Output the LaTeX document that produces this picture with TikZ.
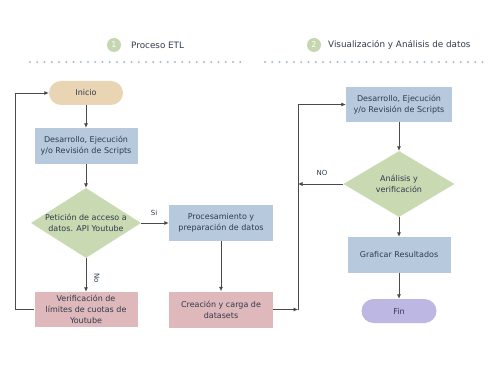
\documentclass[tikz,border=0pt]{standalone}
\usepackage{fontspec}
\setmainfont{DejaVu Sans}
\usetikzlibrary{shapes.geometric,arrows.meta}
\definecolor{txt}{HTML}{2F3B4C}
\definecolor{tan}{HTML}{E9D4B4}
\definecolor{bluebox}{HTML}{B7CADD}
\definecolor{greend}{HTML}{C9D9B2}
\definecolor{pinkbox}{HTML}{DEB8BB}
\definecolor{lav}{HTML}{BDB8E3}
\definecolor{dotc}{HTML}{A9BCCA}
\definecolor{circ}{HTML}{C5D6B0}
\definecolor{linec}{HTML}{4A4A4A}
\tikzset{
  base/.style={text=txt, font=\fontsize{8}{11}\selectfont, align=center, inner sep=0pt},
  pill/.style={base, fill=#1, rounded corners=12pt, minimum width=74pt, minimum height=24pt},
  box/.style={base, fill=#1, minimum width=104pt, minimum height=36pt},
  dec/.style={fill=greend, diamond, aspect=1.6, inner sep=0pt},
  conn/.style={draw=linec, line width=0.7pt, -{Latex[length=4.5pt,width=4pt]}},
  lbl/.style={text=txt, font=\fontsize{7}{8}\selectfont, inner sep=0pt},
  dots/.style={draw=dotc, line width=2.2pt, line cap=round, dash pattern=on 0pt off 7.25pt},
  num/.style={circle, fill=circ, minimum size=14pt, inner sep=0pt, text=white, font=\fontsize{8}{9}\selectfont},
  title/.style={text=txt, font=\fontsize{8.8}{10}\selectfont, inner sep=0pt, anchor=west}
}
\begin{document}
\begin{tikzpicture}[x=1pt,y=-1pt]
\useasboundingbox (0,0) rectangle (500,374);
% headers
\node[num] (n1) at (114,45) {1};
\node[title] (t1) at (131,45) {Proceso ETL};
\node[num] (n2) at (314,45) {2};
\node[title] (t2) at (328,45) {Visualización y Análisis de datos};
\coordinate (d1a) at (30,62); \coordinate (d1b) at (246,62);
\coordinate (d2a) at (265,62); \coordinate (d2b) at (486,62);
\draw[dots] (d1a) -- (d1b);
\draw[dots] (d2a) -- (d2b);
% column 1
\node[pill=tan] (ini) at (86,93) {Inicio};
\node[box=bluebox, minimum width=103pt] (des1) at (86,146) {Desarrollo, Ejecución\\y/o Revisión de Scripts};
\node[dec, minimum width=110pt, minimum height=70pt] (dia1) at (86,223) {};
\node[base] (dia1t) at (dia1) {Petición de acceso a\\datos. API Youtube};
\node[box=pinkbox, minimum width=103pt, minimum height=35pt] (ver) at (86,309.5) {Verificación de\\límites de cuotas de\\Youtube};
% column 2
\node[box=bluebox] (proc) at (221,223) {Procesamiento y\\preparación de datos};
\node[box=pinkbox] (crea) at (221,309.5) {Creación y carga de\\datasets};
% column 3
\node[box=bluebox, minimum width=106pt, minimum height=35pt] (des2) at (399,104.5) {Desarrollo, Ejecución\\y/o Revisión de Scripts};
\node[dec, minimum width=111pt, minimum height=66pt] (dia2) at (399,184) {};
\node[base] (dia2t) at (dia2) {Análisis y\\verificación};
\node[box=bluebox, minimum width=103pt] (graf) at (399,255) {Graficar Resultados};
\node[pill=lav, minimum width=75pt] (fin) at (399,311) {Fin};
% labels
\node[lbl] (si) at (154,213) {Si};
\node[lbl, rotate=-90] (no) at (97,278) {No};
\node[lbl] (nolbl) at (322,173) {NO};
% connectors
\coordinate (c1) at (15,309.5);
\coordinate (j1) at (298,309.5);
\coordinate (j2) at (298,184);
\draw[conn] (ini) -- (des1);
\draw[conn] (des1) -- (dia1);
\draw[conn] (dia1.east) -- (proc.west);
\draw[conn] (dia1.south) -- (ver.north);
\draw[conn] (ver.west) -- (c1) |- (ini.west);
\draw[conn] (proc) -- (crea);
\draw[conn] (crea.east) -- (j1);
\draw[conn] (j1) |- (des2.west);
\draw[conn] (dia2.west) -- (j2);
\draw[conn] (des2) -- (dia2);
\draw[conn] (dia2) -- (graf);
\draw[conn] (graf) -- (fin);
\end{tikzpicture}
\end{document}
